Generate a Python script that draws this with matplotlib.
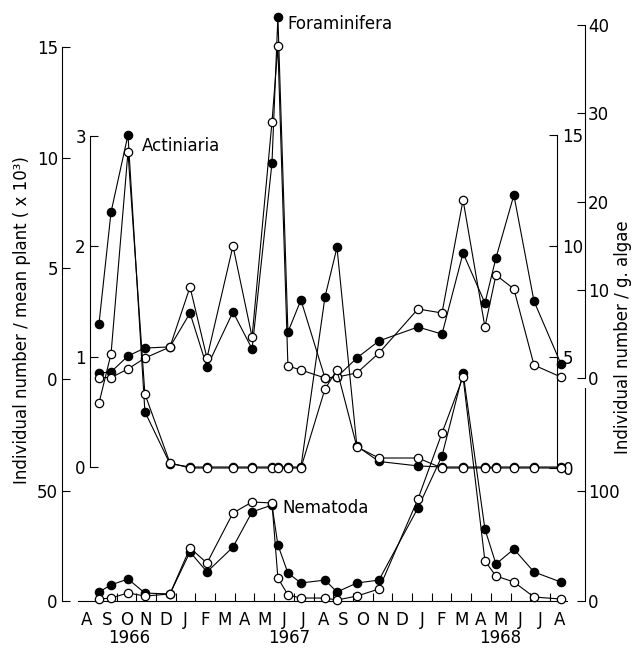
import matplotlib
matplotlib.use('Agg')
import matplotlib.pyplot as plt
import numpy as np

# Meses (0 = inicio de agosto 1966) y fechas de muestreo
meses = ['A', 'S', 'O', 'N', 'D', 'J', 'F', 'M', 'A', 'M', 'J', 'J', 'A',
         'S', 'O', 'N', 'D', 'J', 'F', 'M', 'A', 'M', 'J', 'J', 'A']
anios = ['1966', '1967', '1968']
anios_mes = [2.64, 10.75, 21.5]

fechas = [1.11, 1.72, 2.58, 3.44, 4.71, 5.73, 6.59, 7.91, 8.88, 9.89, 10.19,
          10.70, 11.36, 12.58, 13.19, 14.20, 15.32, 17.30, 18.52, 19.59,
          20.70, 21.26, 22.17, 23.19, 24.56]

# Foraminifera: por planta (x10^3, lleno) y por g de alga (vacio)
foram_planta = [0.27, 0.32, 1.04, 1.40, 1.45, 2.98, 0.54, 3.03, 1.36, 9.76,
                16.36, 2.12, 3.57, 0.05, 0.09, 0.95, 1.72, 2.35, 2.03, 5.69,
                3.43, 5.47, 8.31, 3.52, 0.68]
foram_alga = [0.05, 0.05, 1.02, 2.27, 3.51, 10.31, 2.27, 14.96, 4.65, 29.0,
              37.6, 1.36, 0.91, 0.0, 0.11, 0.57, 2.83, 7.82, 7.37, 20.17,
              5.78, 11.67, 10.09, 1.47, 0.11]

# Actiniaria
actin_planta = [1.30, 2.31, 3.01, 0.50, 0.03, 0, 0, 0, 0, 0, 0, 0, 0, 1.54,
                1.99, 0.19, 0.05, 0.01, 0, 0, 0, 0, 0, 0, 0]
actin_alga = [2.93, 5.14, 14.23, 3.33, 0.23, 0, 0, 0, 0, 0, 0, 0, 0, 3.56,
              4.41, 0.95, 0.45, 0.45, 0, 0, 0, 0, 0, 0, 0]

# Nematoda
nema_planta = [4.1, 7.3, 10.0, 3.6, 3.2, 22.3, 13.2, 24.5, 40.5, 43.6, 25.5,
               12.7, 8.2, 9.5, 4.1, 8.2, 9.5, 42.3, 65.9, 103.6, 32.7, 16.8,
               23.6, 13.2, 8.6]
nema_alga = [1.8, 2.7, 7.3, 4.5, 6.4, 48.2, 34.5, 80.0, 90.0, 89.1, 20.9,
             5.5, 2.7, 2.7, 0.9, 4.5, 10.9, 92.7, 152.7, 203.6, 36.4, 22.7,
             17.3, 3.6, 1.8]

plt.rcParams['font.family'] = 'DejaVu Sans'
plt.rcParams['font.size'] = 12

W, H = 635, 648
fig = plt.figure(figsize=(W / 100, H / 100), dpi=100)
rect = [62 / W, 47 / H, 523 / W, 581 / H]
xlim = (-0.769, 25.78)

def limpiar(ax):
    for s in ax.spines.values():
        s.set_visible(False)
    ax.set_xlim(xlim)
    ax.tick_params(axis='y', direction='in', length=6, width=0.8,
                   labelsize=12, pad=3)

def serie(ax, y, lleno):
    if lleno:
        ax.plot(fechas, y, '-o', color='black', lw=0.8, ms=6,
                mfc='black', mec='black', mew=0.9, clip_on=False, zorder=3)
    else:
        ax.plot(fechas, y, '-o', color='black', lw=0.8, ms=6,
                mfc='white', mec='black', mew=0.9, clip_on=False, zorder=4)

# Foraminifera (eje exterior)
ax_f = fig.add_axes(rect)
limpiar(ax_f)
ax_f.set_ylim(-10.03, 16.22)
ax_f.spines['left'].set_visible(True)
ax_f.spines['left'].set_bounds(-10.03, 15)
ax_f.spines['bottom'].set_visible(True)
ax_f.spines['bottom'].set_bounds(0.05, 24.87)
ax_f.set_yticks([0, 5, 10, 15])
ax_f.set_xticks(np.arange(1, 25))
ax_f.set_xticklabels([])
ax_f.set_xticks(np.arange(len(meses)) + 0.5, minor=True)
ax_f.set_xticklabels(meses, minor=True)
ax_f.tick_params(axis='x', which='major', direction='in', length=6, width=0.8)
ax_f.tick_params(axis='x', which='minor', length=0, pad=7, labelsize=12)
for s in ax_f.spines.values():
    s.set_linewidth(0.8)
serie(ax_f, foram_planta, True)

ax_fr = ax_f.twinx()
limpiar(ax_fr)
ax_fr.set_ylim(-25.27, 40.57)
ax_fr.spines['right'].set_visible(True)
ax_fr.spines['right'].set_bounds(0, 40)
ax_fr.spines['right'].set_linewidth(0.8)
ax_fr.set_yticks([0, 10, 20, 30, 40])
ax_fr.tick_params(axis='y', pad=2)
serie(ax_fr, foram_alga, False)

# Nematoda
ax_n = fig.add_axes(rect)
ax_n.patch.set_visible(False)
limpiar(ax_n)
ax_n.set_ylim(0, 264.1)
ax_n.set_yticks([0, 50])
ax_n.set_xticks([])
serie(ax_n, nema_planta, True)

ax_nr = ax_n.twinx()
limpiar(ax_nr)
ax_nr.set_ylim(0, 528.2)
ax_nr.spines['right'].set_visible(True)
ax_nr.spines['right'].set_bounds(0, 193.6)
ax_nr.spines['right'].set_linewidth(0.8)
ax_nr.set_yticks([0, 100])
ax_nr.tick_params(axis='y', pad=2)
serie(ax_nr, nema_alga, False)

# Actiniaria (ejes interiores)
ax_a = fig.add_axes(rect)
ax_a.patch.set_visible(False)
limpiar(ax_a)
ax_a.set_ylim(-1.2145, 4.0515)
ax_a.spines['left'].set_visible(True)
ax_a.spines['left'].set_position(('axes', 28 / 523))
ax_a.spines['left'].set_bounds(0, 3)
ax_a.spines['left'].set_linewidth(0.8)
ax_a.set_yticks([0, 1, 2, 3])
ax_a.set_xticks([])
serie(ax_a, actin_planta, True)

ax_ar = ax_a.twinx()
limpiar(ax_ar)
ax_ar.set_ylim(-5.991, 20.18)
ax_ar.spines['right'].set_visible(True)
ax_ar.spines['right'].set_position(('axes', 495 / 523))
ax_ar.spines['right'].set_bounds(0, 15)
ax_ar.spines['right'].set_linewidth(0.8)
ax_ar.set_yticks([0, 5, 10, 15])
ax_ar.tick_params(axis='y', pad=4)
serie(ax_ar, actin_alga, False)

# Textos
for a, m in zip(anios, anios_mes):
    ax_f.text(m, -0.064, a, transform=ax_f.get_xaxis_transform(),
              ha='center', va='center', fontsize=12)

fig.text(287 / W, 1 - 24 / H, 'Foraminifera', ha='left', va='center', fontsize=12)
fig.text(142 / W, 1 - 146 / H, 'Actiniaria', ha='left', va='center', fontsize=12)
fig.text(282 / W, 1 - 508 / H, 'Nematoda', ha='left', va='center', fontsize=12)

fig.text(22 / W, 1 - 320 / H, 'Individual number / mean plant ( x 10³)',
         rotation=90, ha='center', va='center', fontsize=12)
fig.text(623 / W, 1 - 337 / H, 'Individual number / g. algae',
         rotation=90, ha='center', va='center', fontsize=12)

fig.savefig('out.png', dpi=100)
